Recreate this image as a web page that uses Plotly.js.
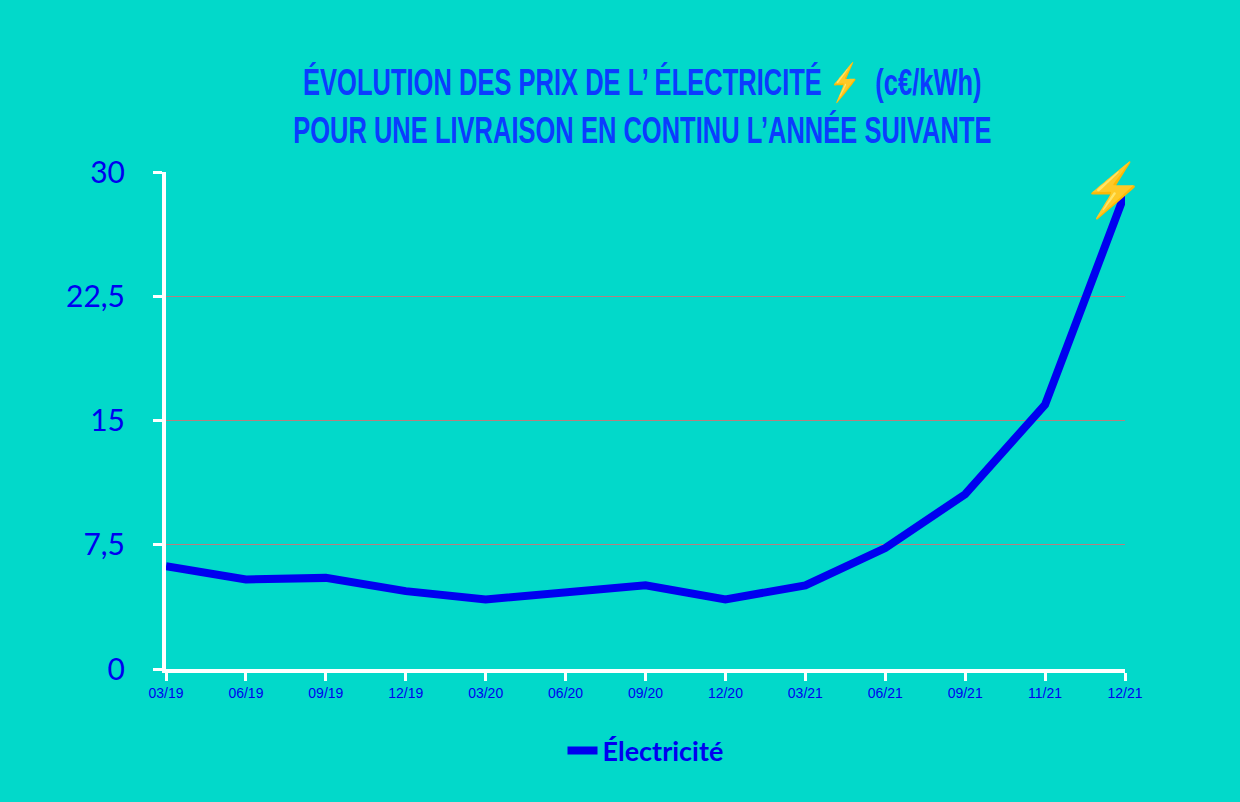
<!DOCTYPE html>
<html>
<head>
<meta charset="utf-8">
<script src="https://cdn.plot.ly/plotly-3.0.1.min.js"></script>
<style>
  body { margin: 0; background: #02d9ca; }
  #chart { width: 1240px; height: 802px; }
</style>
</head>
<body>
<div id="chart"></div>
<script>
// months (mm/yy) and price in c€/kWh
var months = ['03/19', '06/19', '09/19', '12/19', '03/20', '06/20', '09/20',
              '12/20', '03/21', '06/21', '09/21', '11/21', '12/21']
var prices = [6.2, 5.4, 5.5, 4.7, 4.2, 4.65, 5.05, 4.2, 5.05, 7.3, 10.55, 15.95, 28.7]

var yTicks = [0, 7.5, 15, 22.5, 30]

var blue = '#0000f0'
var bg = '#02d9ca'

var data = [{
  name: 'Électricité',
  x: months,
  y: prices,
  type: 'scatter',
  mode: 'lines',
  line: { color: blue, width: 8 }
}];

var layout = {
  width: 1240,
  height: 802,
  paper_bgcolor: bg,
  plot_bgcolor: bg,
  separators: ', ',
  margin: { l: 166, r: 115, t: 172, b: 133 },
  title: {
    text: 'ÉVOLUTION DES PRIX DE L’ ÉLECTRICITÉ ⚡  (c€/kWh)<br>POUR UNE LIVRAISON EN CONTINU L’ANNÉE SUIVANTE',
    font: { family: 'Liberation Sans, Arial, sans-serif', size: 37, color: '#0b3cff', weight: 'bold' },
    x: 0.518,
    xanchor: 'center',
    y: 0.882,
    yanchor: 'middle'
  },
  xaxis: {
    type: 'category',
    range: [0, 12],
    showgrid: false,
    zeroline: false,
    showline: true,
    linecolor: 'white',
    linewidth: 4,
    ticks: 'outside',
    tickcolor: 'white',
    tickwidth: 3,
    ticklen: 8,
    tickfont: { family: 'Liberation Sans, sans-serif', size: 14, color: blue },
    fixedrange: true
  },
  yaxis: {
    range: [0, 30],
    tickvals: yTicks,
    showgrid: true,
    gridcolor: '#b58080',
    gridwidth: 1,
    zeroline: false,
    showline: true,
    linecolor: 'white',
    linewidth: 4,
    ticks: 'outside',
    tickcolor: 'white',
    tickwidth: 3,
    ticklen: 9,
    ticklabelstandoff: 22,
    tickfont: { family: 'Lato, sans-serif', size: 30, color: blue },
    fixedrange: true
  },
  showlegend: true,
  legend: {
    orientation: 'h',
    x: 0.5,
    xanchor: 'center',
    y: -0.165,
    yanchor: 'middle',
    font: { family: 'Lato, sans-serif', size: 27, color: blue, weight: 'bold' },
    bgcolor: 'rgba(0,0,0,0)'
  },
  annotations: [{
    x: months[months.length - 1],
    y: prices[prices.length - 1],
    text: '⚡',
    showarrow: false,
    xshift: -12,
    yshift: 6,
    font: { size: 52 }
  }]
};

Plotly.newPlot('chart', data, layout, { displayModeBar: false, staticPlot: true }).then(function (gd) {
  // squeeze the title horizontally to get the condensed poster look
  var t = gd.querySelector('.gtitle');
  if (!t) return;
  var box = t.getBBox();
  var cx = box.x + box.width / 2;
  var old = t.getAttribute('transform') || '';
  t.setAttribute('transform', old + ' translate(' + cx + ',0) scale(0.69,1) translate(' + (-cx) + ',0)');
});
</script>
</body>
</html>
